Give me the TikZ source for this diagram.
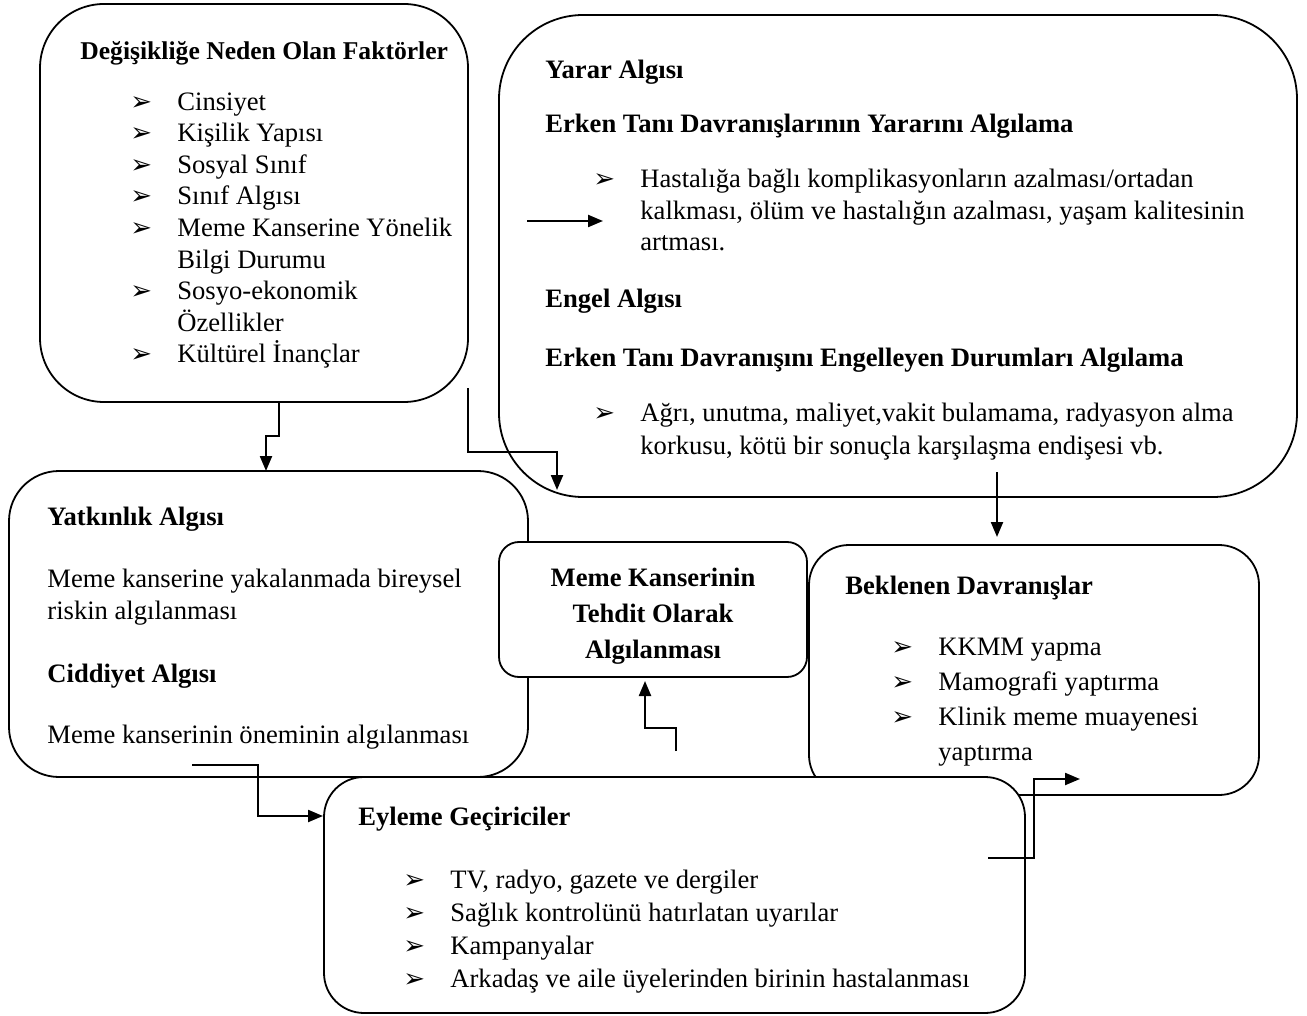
\documentclass[tikz,border=0pt]{standalone}
\usepackage{fontspec}
\setmainfont{Liberation Serif}
\newfontfamily\dingfont{DejaVu Sans}
\usetikzlibrary{arrows.meta}

% bullet of the lists, and the indent of a wrapped item
\newcommand{\bul}{\makebox[23.5pt][l]{\dingfont\fontsize{13}{13}\selectfont ➢}}
\newcommand{\nobul}{\hspace*{23.5pt}}

\begin{document}
\begin{tikzpicture}[
  x=0.5pt, y=-0.5pt,
  box/.style={rectangle, draw, line width=0.9pt, fill=white, inner sep=0pt, outer sep=0pt},
  txt/.style={anchor=base west, inner sep=0pt, align=left, font={\fontsize{13.3}{15.8}\selectfont}},
  head/.style={anchor=base west, inner sep=0pt, font={\fontsize{13.3}{15.8}\selectfont\bfseries}},
  arrow/.style={-{Triangle[length=7.5pt,width=6pt]}, line width=1.1pt}
]
\useasboundingbox (0,0) rectangle (1307,1016);

% Boxes
\node[box, rounded corners=32pt, minimum width=214pt, minimum height=199pt] (factors) at (254,203) {};
\node[box, rounded corners=42pt, minimum width=399pt, minimum height=241pt] (benefit) at (898,256) {};
\node[box, rounded corners=25pt, minimum width=259.5pt, minimum height=153pt] (suscept) at (268.5,624) {};
\node[box, rounded corners=10pt, minimum width=154pt, minimum height=67.5pt] (threat) at (653,609.5) {};
\node[box, rounded corners=20pt, minimum width=225pt, minimum height=125pt] (expected) at (1034,670) {};
\node[box, rounded corners=20pt, minimum width=350.5pt, minimum height=118pt] (cues) at (674.5,895) {};

% Modifying factors (multi-line texts sit on their last baseline)
\node[head, font={\fontsize{12.8}{15.8}\selectfont\bfseries}] (factorsHead) at (80,60) {Değişikliğe Neden Olan Faktörler};
\node[txt] (factorsList) at (130,363) {\bul Cinsiyet\\
  \bul Kişilik Yapısı\\
  \bul Sosyal Sınıf\\
  \bul Sınıf Algısı\\
  \bul Meme Kanserine Yönelik\\
  \nobul Bilgi Durumu\\
  \bul Sosyo-ekonomik\\
  \nobul Özellikler\\
  \bul Kültürel İnançlar};

% Benefits and barriers
\node[head] (benefitHead) at (545,79) {Yarar Algısı};
\node[head] (benefitSub) at (545,133) {Erken Tanı Davranışlarının Yararını Algılama};
\node[txt] (benefitList) at (593,251) {\bul Hastalığa bağlı komplikasyonların azalması/ortadan\\
  \nobul kalkması, ölüm ve hastalığın azalması, yaşam kalitesinin\\
  \nobul artması.};
\node[head] (barrierHead) at (545,308) {Engel Algısı};
\node[head] (barrierSub) at (545,366) {Erken Tanı Davranışını Engelleyen Durumları Algılama};
\node[txt, font={\fontsize{13.3}{16.5}\selectfont}] (barrierList) at (593,454) {\bul Ağrı, unutma, maliyet,vakit bulamama, radyasyon alma\\
  \nobul korkusu, kötü bir sonuçla karşılaşma endişesi vb.};

% Susceptibility and severity
\node[head] (susceptHead) at (47,525) {Yatkınlık Algısı};
\node[txt, font={\fontsize{13.3}{16}\selectfont}] (susceptText) at (47,619) {Meme kanserine yakalanmada bireysel\\riskin algılanması};
\node[head] (severityHead) at (47,682) {Ciddiyet Algısı};
\node[txt] (severityText) at (47,743) {Meme kanserinin öneminin algılanması};

% Perceived threat
\node[head, anchor=base, align=center, font={\fontsize{13.3}{18}\selectfont\bfseries}] (threatText) at (653,658) {Meme Kanserinin\\Tehdit Olarak\\Algılanması};

% Expected behaviours
\node[head] (expectedHead) at (845,594) {Beklenen Davranışlar};
\node[txt, font={\fontsize{13.3}{17.5}\selectfont}] (expectedList) at (891,760) {\bul KKMM yapma\\
  \bul Mamografi yaptırma\\
  \bul Klinik meme muayenesi\\
  \nobul yaptırma};

% Cues to action
\node[head] (cuesHead) at (358,825) {Eyleme Geçiriciler};
\node[txt, font={\fontsize{13.3}{16.5}\selectfont}] (cuesList) at (403,987) {\bul TV, radyo, gazete ve dergiler\\
  \bul Sağlık kontrolünü hatırlatan uyarılar\\
  \bul Kampanyalar\\
  \bul Arkadaş ve aile üyelerinden birinin hastalanması};

% Arrows
\draw[arrow] ([xshift=12.5pt]factors.south) -- ++(0,34) -| ([xshift=-1.25pt]suscept.north);
\draw[arrow] ([yshift=7pt]factors.south east) -- ++(0,64) -| ([xshift=-48pt,yshift=26pt]threat.north);
\draw[arrow] ([xshift=14pt,yshift=17.5pt]benefit.west) -- ++(76,0);
\draw[arrow] ([xshift=49.5pt,yshift=12.5pt]benefit.south) -- ([xshift=-18.5pt,yshift=4pt]expected.north);
\draw[arrow] ([xshift=-38.25pt,yshift=6pt]suscept.south) -- ++(66,0) |- ([xshift=-0.5pt,yshift=39.5pt]cues.west);
\draw[arrow] ([xshift=0.75pt,yshift=13pt]cues.north) -- ++(0,-23) -| ([xshift=-4pt,yshift=-2pt]threat.south);
\draw[arrow] ([xshift=-18.5pt,yshift=18.5pt]cues.east) -- ++(46,0) |- ([xshift=23pt,yshift=8pt]expected.south);

\end{tikzpicture}
\end{document}
